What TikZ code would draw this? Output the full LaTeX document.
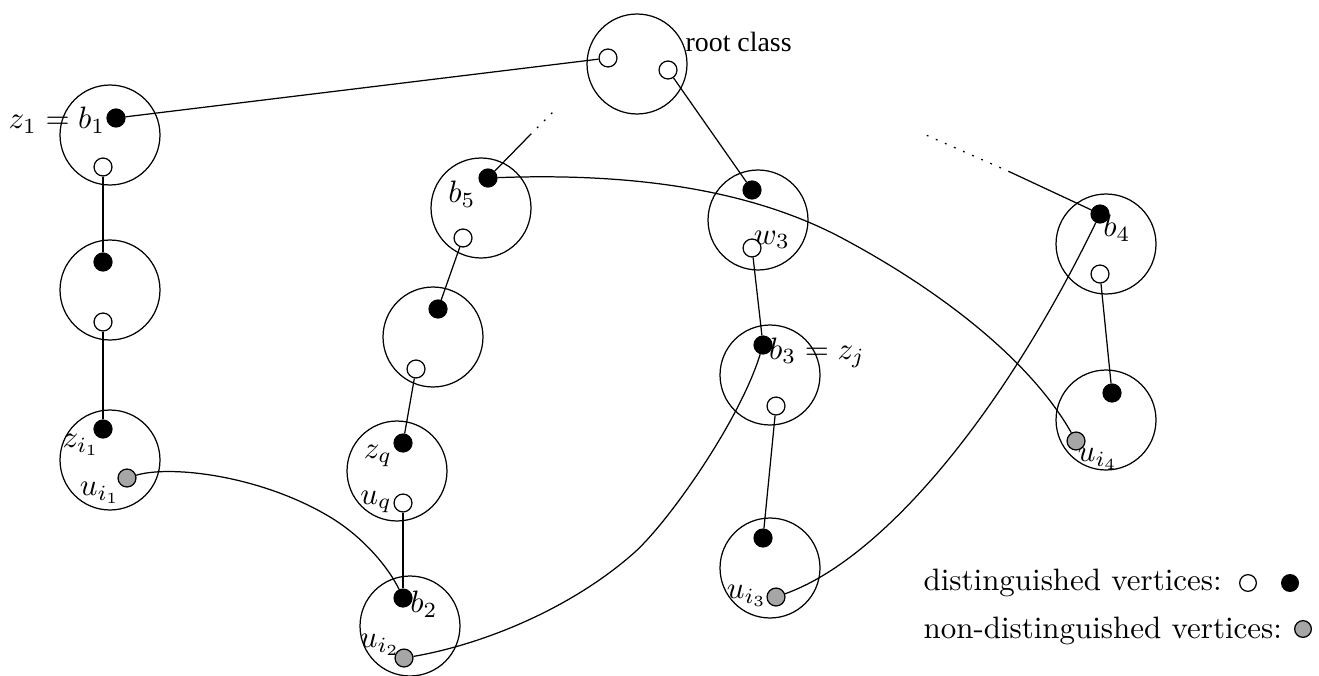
\documentclass[tikz,border=0pt]{standalone}
\usepackage{fontspec}
\newfontfamily\timesfont{Liberation Serif}
\begin{document}
\begin{tikzpicture}[x=0.3231pt,y=-0.3231pt,
  cls/.style={circle,draw,line width=0.4pt,minimum size=32.3pt,inner sep=0pt},
  vdot/.style={circle,draw,line width=0.4pt,minimum size=5.8pt,inner sep=0pt},
  bdot/.style={vdot,fill=black},
  wdot/.style={vdot,fill=white},
  gdot/.style={vdot,fill=black!35},
  ldot/.style={circle,draw,line width=0.4pt,minimum size=5.4pt,inner sep=0pt},
  lbl/.style={inner sep=0pt},
  dots/.style={dash pattern=on 0.6pt off 2.6pt}]
\useasboundingbox (0,0) rectangle (1319,675);
% classes
\node[cls] (c1) at (110,135) {};
\node[cls] (c2) at (110,290) {};
\node[cls] (c3) at (110,460) {};
\node[cls] (croot) at (637,64) {};
\node[cls] (cb5) at (481,208) {};
\node[cls] (cm) at (433,337) {};
\node[cls] (czq) at (397,471) {};
\node[cls] (cb2) at (410,626) {};
\node[cls] (cw3) at (758,220) {};
\node[cls] (cb3) at (770,375) {};
\node[cls] (cu3) at (770,568) {};
\node[cls] (cb4) at (1106,244) {};
\node[cls] (cu4) at (1106,420) {};
% vertices
\node[bdot] (d1b) at (116,118) {};
\node[wdot] (d1w) at (103,167) {};
\node[bdot] (d2b) at (103,262) {};
\node[wdot] (d2w) at (103,322) {};
\node[bdot] (d3b) at (103,429) {};
\node[gdot] (d3g) at (127,478) {};
\node[wdot] (r1) at (608,58) {};
\node[wdot] (r2) at (668,70) {};
\node[bdot] (b5b) at (488,178) {};
\node[wdot] (b5w) at (463,238) {};
\node[bdot] (mb) at (438,309) {};
\node[wdot] (mw) at (416,369) {};
\node[bdot] (zqb) at (403,443) {};
\node[wdot] (uqw) at (403,503) {};
\node[bdot] (b2b) at (403,598) {};
\node[gdot] (u2g) at (404,658) {};
\node[bdot] (w3b) at (752,190) {};
\node[wdot] (w3w) at (752,248) {};
\node[bdot] (b3b) at (763,345) {};
\node[wdot] (b3w) at (776,406) {};
\node[bdot] (u3b) at (763,538) {};
\node[gdot] (u3g) at (776,597) {};
\node[bdot] (b4b) at (1100,214) {};
\node[wdot] (b4w) at (1100,274) {};
\node[bdot] (u4b) at (1112,393) {};
\node[gdot] (u4g) at (1076,441) {};
% straight edges
\draw (r1) -- (d1b);
\draw (r2) -- (w3b);
\draw (d1w) -- (d2b);
\draw (d2w) -- (d3b);
\draw (b5w) -- (mb);
\draw (mw) -- (zqb);
\draw (uqw) -- (b2b);
\draw (w3w) -- (b3b);
\draw (b3w) -- (u3b);
\draw (b4w) -- (u4b);
% open ends
\coordinate (e5) at (530,135);
\coordinate (e5d) at (553,112);
\coordinate (e4) at (1010,172);
\coordinate (e4d) at (926,135);
\draw (b5b) -- (e5);
\draw[dots] (e5) -- (e5d);
\draw (b4b) -- (e4);
\draw[dots] (e4) -- (e4d);
% curved edges
\draw (d3g) .. controls (170,465) and (260,475) .. (330,517) .. controls (365,538) and (390,570) .. (b2b);
\draw (u2g) .. controls (480,645) and (570,610) .. (635,552) .. controls (670,520) and (740,420) .. (b3b);
\draw (u3g) .. controls (880,560) and (1000,420) .. (b4b);
\draw (b5b) .. controls (650,172) and (760,195) .. (840,237) .. controls (940,290) and (1030,360) .. (u4g);
% labels
\node[lbl,anchor=east] (lz1) at (106,120) {$z_1 = b_1$};
\node[lbl,anchor=west] (lroot) at (685,42) {\timesfont\fontsize{9pt}{11pt}\selectfont root class};
\node[lbl] (lb5) at (462,194) {$b_5$};
\node[lbl] (lw3) at (772,240) {$w_3$};
\node[lbl] (lb4) at (1117,228) {$b_4$};
\node[lbl] (lzi1) at (81,445) {$z_{i_1}$};
\node[lbl] (lui1) at (100,493) {$u_{i_1}$};
\node[lbl] (lzq) at (378,456) {$z_q$};
\node[lbl] (luq) at (376,502) {$u_q$};
\node[lbl] (lb2) at (424,604) {$b_2$};
\node[lbl] (lui2) at (380,645) {$u_{i_2}$};
\node[lbl] (lb3) at (817,353) {$b_3 = z_j$};
\node[lbl] (lui3) at (747,596) {$u_{i_3}$};
\node[lbl] (lui4) at (1098,459) {$u_{i_4}$};
% legend
\node[lbl,anchor=west] (leg1) at (923,583) {distinguished vertices:};
\node[lbl,anchor=west] (leg2) at (923,631) {non-distinguished vertices:};
\node[ldot,fill=white] (lw) at (1248,583) {};
\node[ldot,fill=black] (lb) at (1290,583) {};
\node[ldot,fill=black!35] (lg) at (1303,629) {};
\end{tikzpicture}
\end{document}
